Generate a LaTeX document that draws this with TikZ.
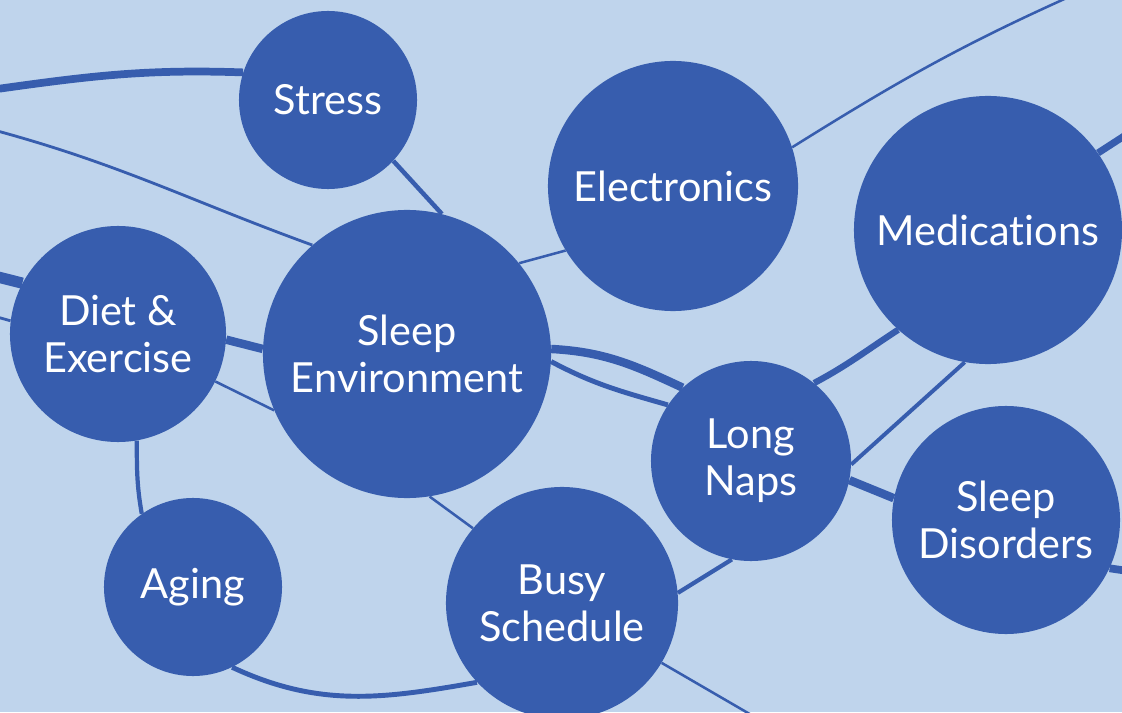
\documentclass[tikz,border=0pt]{standalone}
\usepackage{fontspec}
\setmainfont{Lato}[Ligatures={NoCommon,NoRare}]
\usepackage{tikz}
\definecolor{bgblue}{HTML}{BFD4EC}
\definecolor{bubbleblue}{HTML}{375DAE}
\pgfdeclarelayer{back}
\pgfdeclarelayer{links}
\pgfsetlayers{back,links,main}
\tikzset{
  bubble/.style={circle, fill=bubbleblue, text=white, inner sep=0pt,
    minimum size=#1, align=center, font=\fontsize{29.5}{33.5}\selectfont},
  wire/.style={draw=bubbleblue, line width=#1},
  wire/.default=2pt
}

\begin{document}
\begin{tikzpicture}[x=0.025cm, y=0.025cm]
    \useasboundingbox (0,0) rectangle (1122,712);
    \begin{pgfonlayer}{back}
        \fill[bgblue] (0,0) rectangle (1122,712);
    \end{pgfonlayer}
    \clip (0,0) rectangle (1122,712);

    \node [bubble=4.45cm] (stress) at (328,612) {Stress};
    \node [bubble=6.25cm] (elec)   at (673,526) {Electronics};
    \node [bubble=6.7cm]  (meds)   at (988,482) {Medications};
    \node [bubble=5.4cm]  (diet)   at (118,378) {Diet \&\\Exercise};
    \node [bubble=7.2cm]  (env)    at (407,358) {Sleep\\Environment};
    \node [bubble=5cm]    (naps)   at (751,251) {Long\\Naps};
    \node [bubble=5.7cm]  (disord) at (1006,192) {Sleep\\Disorders};
    \node [bubble=4.45cm] (aging)  at (193,125) {Aging};
    \node [bubble=5.8cm]  (busy)   at (562,109) {Busy\\Schedule};

    % loose ends running off the edges
    \coordinate (lt1) at (-10,622);
    \coordinate (lt2) at (-10,583);
    \coordinate (lt3) at (-10,437);
    \coordinate (lt4) at (-10,397);
    \coordinate (tr)  at (1080,720);
    \coordinate (mr)  at (1135,583);
    \coordinate (dr)  at (1135,140);
    \coordinate (bb)  at (760,-8);

    \begin{pgfonlayer}{links}
        \clip (0,0) rectangle (1122,712);
        \draw[wire=5.5pt] (lt1) to[out=8, in=178] (stress.162);
        \draw[wire] (lt2) to[out=-15, in=160] (env.131);
        \draw[wire=3.2pt] (stress.-43) -- (env.76);
        \draw[wire=1.8pt] (env.39) -- (elec.211);
        \draw[wire=1.8pt] (elec.18) to[out=32, in=204] (tr);
        \draw[wire=5pt] (meds.35) -- (mr);
        \draw[wire=4.5pt] (meds.228) to[out=213, in=28] (naps.51);
        \draw[wire=2.8pt] (meds.260) -- (naps.-2);
        \draw[wire=6pt] (naps.-11) -- (disord.169);
        \draw[wire=5.5pt] (disord.-25) -- (dr);
        \draw[wire=3pt] (naps.259) -- (busy.5);
        \draw[wire=1.8pt] (busy.-31) -- (bb);
        \draw[wire=3.5pt] (aging.-64) to[out=-25, in=190] (busy.223);
        \draw[wire=3pt] (diet.-80) to[out=-90, in=100] (aging.125);
        \draw[wire=1.8pt] (diet.-26) -- (env.203);
        \draw[wire=6pt] (diet.-3) -- (env.178);
        \draw[wire=8pt] (lt3) -- (diet.152);
        \draw[wire] (lt4) -- (diet.173);
        \draw[wire=1.8pt] (env.-81) -- (busy.140);
        \draw[wire=6pt] (env.2) to[out=-3, in=155] (naps.133);
        \draw[wire=3.5pt] (env.-3) to[out=-28, in=164] (naps.146);
    \end{pgfonlayer}
\end{tikzpicture}
\end{document}
